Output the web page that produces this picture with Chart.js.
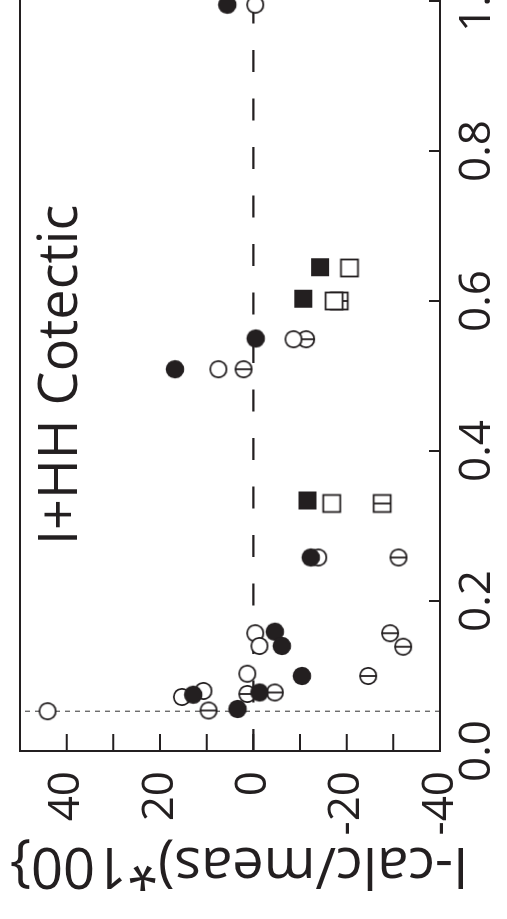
<!DOCTYPE html>
<html><head><meta charset="utf-8">
<script src="https://cdn.jsdelivr.net/npm/chart.js@4.4.1/dist/chart.umd.min.js"></script>
<style>
html,body{margin:0;padding:0;background:#fff;overflow:hidden;width:507px;height:919px;}
#wrap{position:absolute;left:0;top:0;width:1000px;height:507px;transform-origin:0 0;transform:translateY(919px) rotate(-90deg);}
canvas{display:block;}
</style></head><body>
<div id="wrap"><canvas id="c" width="1000" height="507"></canvas></div>
<script>
// ---- data (x: fraction, y: (I-calc/meas)*100) ----
const filledCircleX = [0.995, 0.509, 0.550, 0.258, 0.159, 0.140, 0.100, 0.078, 0.075, 0.056];
const filledCircleY = [5.6, 16.8, -0.5, -12.3, -4.6, -6.1, -10.4, -1.3, 12.9, 3.4];
const openCircleX = [0.995, 0.509, 0.549, 0.258, 0.157, 0.140, 0.103, 0.072, 0.080, 0.053];
const openCircleY = [-0.4, 7.5, -8.6, -13.9, -0.4, -1.3, 1.3, 15.3, 10.7, 44.1];
const barCircleX = [0.509, 0.549, 0.258, 0.157, 0.139, 0.100, 0.076, 0.078, 0.054];
const barCircleY = [2.1, -11.3, -31.1, -29.3, -32.1, -24.6, 1.3, -4.6, 9.6];
const filledSquareX = [0.645, 0.603, 0.334];
const filledSquareY = [-14.3, -10.7, -11.6];
const openSquareX = [0.644, 0.600, 0.330];
const openSquareY = [-20.6, -17.3, -16.8];
const barSquareX = [0.600, 0.330];
const barSquareY = [-18.4, -27.6];
const zeroLineX = [0, 1.05];
const zeroLineY = [0, 0];
const limitLineX = [0.053, 0.053];
const limitLineY = [-40, 50];
const xTickLabels = ['0.0', '0.2', '0.4', '0.6', '0.8', '1.0'];
const yTickLabels = ['-40', '-20', '0', '20', '40'];
const panelLabel = 'I+HH Cotectic';
const yTitle = 'I-calc/meas)*100}';

const INK = '#231f20';
const pts = (xs, ys) => xs.map((x, i) => ({x, y: ys[i]}));

function marker(kind) {
  const c = document.createElement('canvas');
  c.width = 24; c.height = 24;
  const g = c.getContext('2d');
  const m = 12;
  g.fillStyle = INK; g.strokeStyle = INK; g.lineWidth = 1.8;
  if (kind === 'filledCircle') {
    g.beginPath(); g.arc(m, m, 9.2, 0, Math.PI * 2); g.fill();
  } else if (kind === 'openCircle' || kind === 'barCircle') {
    g.beginPath(); g.arc(m, m, 8.2, 0, Math.PI * 2);
    g.fillStyle = '#fff'; g.fill(); g.stroke();
    if (kind === 'barCircle') { g.beginPath(); g.moveTo(m, m - 8.2); g.lineTo(m, m + 8.2); g.stroke(); }
  } else if (kind === 'filledSquare') {
    g.fillRect(m - 9, m - 9, 18, 18);
  } else {
    g.fillStyle = '#fff';
    g.fillRect(m - 8.5, m - 8.5, 17, 17);
    g.strokeRect(m - 8.5, m - 8.5, 17, 17);
    if (kind === 'barSquare') { g.beginPath(); g.moveTo(m, m - 8.5); g.lineTo(m, m + 8.5); g.stroke(); }
  }
  return c;
}

const overlay = {
  id: 'overlay',
  afterDraw(chart) {
    const {ctx, chartArea: a, scales: {x, y}} = chart;
    ctx.save();
    ctx.strokeStyle = INK; ctx.lineWidth = 2;
    ctx.beginPath();
    ctx.moveTo(a.right, a.top); ctx.lineTo(a.left, a.top);
    ctx.lineTo(a.left, a.bottom); ctx.lineTo(a.right, a.bottom);
    y.ticks.forEach(t => {
      if (t.value <= y.min || t.value >= y.max) return;
      const p = y.getPixelForValue(t.value);
      ctx.moveTo(a.left, p); ctx.lineTo(a.left + 17, p);
    });
    x.ticks.forEach(t => {
      if (t.value <= x.min) return;
      const p = x.getPixelForValue(t.value);
      ctx.moveTo(p, a.bottom); ctx.lineTo(p, a.bottom - 11);
    });
    ctx.stroke();
    ctx.fillStyle = INK;
    ctx.font = '54px "Open Sans"';
    ctx.textAlign = 'left'; ctx.textBaseline = 'alphabetic';
    ctx.fillText(panelLabel, a.left + 206, a.top + 57);
    ctx.translate(a.left - 97, a.top - 10);
    ctx.rotate(-Math.PI / 2);
    ctx.font = '56px "Open Sans"';
    ctx.textAlign = 'right';
    ctx.fillText(yTitle, 0, 0);
    ctx.restore();
  }
};

const tickFont = {family: '"Liberation Sans Narrow", "Open Sans", sans-serif', size: 44};
const noPad = s => { s.paddingTop = 0; s.paddingBottom = 0; s.paddingLeft = 0; s.paddingRight = 0; };

new Chart(document.getElementById('c'), {
  type: 'scatter',
  data: {
    datasets: [
      {data: pts(filledCircleX, filledCircleY), pointStyle: marker('filledCircle'), pointRadius: 9, order: 1},
      {data: pts(filledSquareX, filledSquareY), pointStyle: marker('filledSquare'), pointRadius: 9, order: 1},
      {data: pts(openCircleX, openCircleY), pointStyle: marker('openCircle'), pointRadius: 9, order: 2},
      {data: pts(openSquareX, openSquareY), pointStyle: marker('openSquare'), pointRadius: 9, order: 2},
      {data: pts(barCircleX, barCircleY), pointStyle: marker('barCircle'), pointRadius: 9, order: 3},
      {data: pts(barSquareX, barSquareY), pointStyle: marker('barSquare'), pointRadius: 9, order: 3},
      {type: 'line', data: pts(zeroLineX, zeroLineY), showLine: true, pointRadius: 0,
       borderColor: INK, borderWidth: 2.2, borderDash: [22, 26.5], order: 5},
      {type: 'line', data: pts(limitLineX, limitLineY), showLine: true, pointRadius: 0,
       borderColor: '#555', borderWidth: 1.2, borderDash: [5, 5], order: 5}
    ]
  },
  options: {
    responsive: false,
    animation: false,
    devicePixelRatio: 1,
    layout: {padding: {left: 0, top: 20, right: 44.5, bottom: 0}},
    plugins: {legend: {display: false}, tooltip: {enabled: false}},
    scales: {
      x: {
        type: 'linear', min: 0, max: 1.05,
        grid: {display: false, drawTicks: false},
        border: {display: false},
        ticks: {
          stepSize: 0.2, includeBounds: false, autoSkip: false, maxRotation: 0, minRotation: 0,
          padding: 11, color: INK, font: tickFont,
          callback: v => { const s = Number(v).toFixed(1); return xTickLabels.includes(s) ? s : ''; }
        },
        afterFit: s => { s.height = 67; noPad(s); }
      },
      y: {
        type: 'linear', min: -40, max: 50,
        grid: {display: false, drawTicks: false},
        border: {display: false},
        ticks: {
          stepSize: 10, includeBounds: false, autoSkip: false,
          padding: 20, color: INK, font: tickFont,
          callback: v => { const s = String(Math.round(v)); return yTickLabels.includes(s) ? s : ''; }
        },
        afterFit: s => { s.width = 168; noPad(s); }
      }
    }
  },
  plugins: [overlay]
});
</script>
</body></html>
